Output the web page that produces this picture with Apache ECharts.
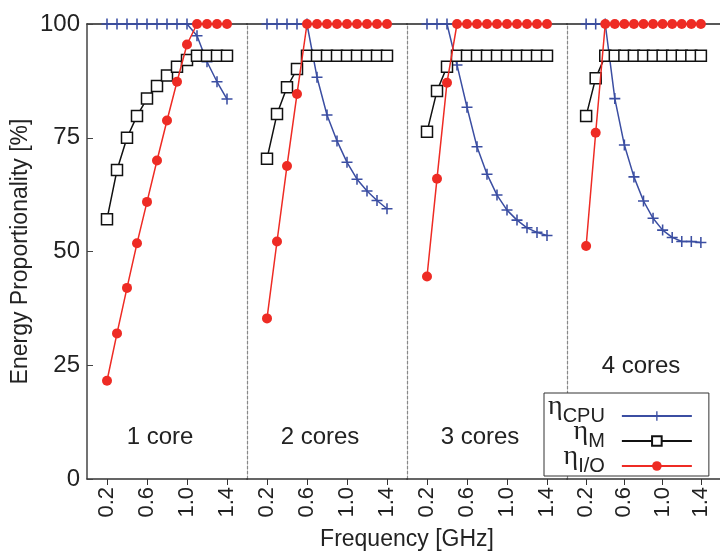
<!DOCTYPE html>
<html><head><meta charset="utf-8">
<script src="https://cdn.jsdelivr.net/npm/echarts@6/dist/echarts.min.js"></script>
<style>html,body{margin:0;padding:0;background:#fff}#c{width:720px;height:554px}</style>
</head><body><div id="c"></div>
<script>
const freq = [0.2,0.3,0.4,0.5,0.6,0.7,0.8,0.9,1.0,1.1,1.2,1.3,1.4];
const xTicks = [0.2,0.6,1.0,1.4];
const yTicks = [0,25,50,75,100];
const panelLabels = ['1 core','2 cores','3 cores','4 cores'];
const cpu1 = [100,100,100,100,100,100,100,100,100,97.4,91.7,87.3,83.5];
const mem1 = [57.1,67.9,75.0,79.8,83.6,86.4,88.7,90.6,92.1,93,93,93,93];
const io1  = [21.6,32.0,42.0,51.8,60.9,70.0,78.8,87.3,95.5,100,100,100,100];
const cpu2 = [100,100,100,100,100,88.3,80.0,74.3,69.6,65.9,63.3,61.2,59.4];
const mem2 = [70.4,80.2,86.1,90.1,93,93,93,93,93,93,93,93,93];
const io2  = [35.3,52.2,68.8,84.6,100,100,100,100,100,100,100,100,100];
const cpu3 = [100,100,100,91,81.7,73.0,67.0,62.4,59.1,56.9,55.2,54.2,53.5];
const mem3 = [76.3,85.3,90.6,93,93,93,93,93,93,93,93,93,93];
const io3  = [44.5,66.0,87.1,100,100,100,100,100,100,100,100,100,100];
const cpu4 = [100,100,100,83.6,73.4,66.4,61.1,57.3,54.7,53.1,52.2,52.2,52.0];
const mem4 = [79.8,88.1,93,93,93,93,93,93,93,93,93,93,93];
const io4  = [51.2,76.1,100,100,100,100,100,100,100,100,100,100,100];

const cpuAll = [cpu1,cpu2,cpu3,cpu4];
const memAll = [mem1,mem2,mem3,mem4];
const ioAll  = [io1,io2,io3,io4];

const BLUE = '#3b4ea2', BLACK = '#111', RED = '#ee2b24';
const PLUS = 'path://M4.3,0h1.4v4.3h4.3v1.4h-4.3v4.3h-1.4v-4.3h-4.3v-1.4h4.3z';
const FONT = 'Liberation Sans';

const grids = [], xAxes = [], yAxes = [], series = [];
for (let i = 0; i < 4; i++) {
  grids.push({left: 87 + 160*i, width: 160, top: 24, height: 455});
  xAxes.push({
    gridIndex: i, type: 'value', min: 0, max: 1.6, position: 'bottom',
    axisLine: {show: true, onZero: false, lineStyle: {color: '#333', width: 1.5}},
    axisTick: {show: true, inside: false, length: 6, customValues: xTicks, lineStyle: {color: '#333', width: 1}},
    axisLabel: {show: true, customValues: xTicks, rotate: 90, margin: 8, fontSize: 22, fontFamily: FONT, color: '#222',
      formatter: v => v.toFixed(1)},
    splitLine: {show: false}
  });
  xAxes.push({
    gridIndex: i, type: 'value', min: 0, max: 1.6, position: 'top',
    axisLine: {show: true, onZero: false, lineStyle: {color: '#222', width: 1.5}},
    axisTick: {show: false}, axisLabel: {show: false}, splitLine: {show: false}
  });
  yAxes.push(i === 0 ? {
    gridIndex: i, type: 'value', min: 0, max: 100, interval: 25,
    name: 'Energy Proportionality [%]', nameLocation: 'middle', nameGap: 55,
    nameTextStyle: {fontSize: 23, fontFamily: FONT, color: '#222'},
    axisLine: {show: true, lineStyle: {color: '#444', width: 1.5}},
    axisTick: {show: true, inside: true, length: 6, lineStyle: {color: '#444'}},
    axisLabel: {fontSize: 24, fontFamily: FONT, color: '#222', margin: 7},
    splitLine: {show: false}
  } : {
    gridIndex: i, type: 'value', min: 0, max: 100, interval: 25,
    axisLine: {show: true, lineStyle: {color: '#888', width: 1.2, type: [3, 2]}},
    axisTick: {show: false}, axisLabel: {show: false}, splitLine: {show: false}
  });
  const mk = (arr) => freq.map((f, k) => [f, arr[k]]);
  series.push({
    name: 'CPU', type: 'line', xAxisIndex: 2*i, yAxisIndex: i, data: mk(cpuAll[i]),
    symbol: PLUS, symbolSize: 11, showSymbol: true,
    lineStyle: {color: BLUE, width: 1.5}, itemStyle: {color: BLUE}, z: 2, animation: false
  });
  series.push({
    name: 'M', type: 'line', xAxisIndex: 2*i, yAxisIndex: i, data: mk(memAll[i]),
    symbol: 'rect', symbolSize: 11,
    lineStyle: {color: BLACK, width: 1.5}, itemStyle: {color: '#fff', borderColor: BLACK, borderWidth: 1.5}, z: 3, animation: false
  });
  series.push({
    name: 'I/O', type: 'line', xAxisIndex: 2*i, yAxisIndex: i, data: mk(ioAll[i]),
    symbol: 'circle', symbolSize: 10,
    lineStyle: {color: RED, width: 1.5}, itemStyle: {color: RED}, z: 4, animation: false
  });
}

const labelPos = [[160,437],[320,437],[480,437],[641,366]];
const graphics = panelLabels.map((t, i) => ({
  type: 'text', x: labelPos[i][0], y: labelPos[i][1],
  style: {text: t, fontSize: 24, fontFamily: FONT, fill: '#222', align: 'center', verticalAlign: 'middle'}
}));
graphics.push({type: 'text', x: 407, y: 540,
  style: {text: 'Frequency [GHz]', fontSize: 23, fontFamily: FONT, fill: '#222', align: 'center', verticalAlign: 'middle'}});

const subs = {'CPU': 'CPU', 'M': 'M', 'I/O': 'I/O'};
const option = {
  animation: false,
  grid: grids, xAxis: xAxes, yAxis: yAxes, series: series,
  legend: {
    data: ['CPU','M','I/O'], orient: 'vertical', align: 'right',
    left: 544, top: 393, itemWidth: 70, itemHeight: 12, itemGap: -8,
    padding: [0, 16, 0, 4],
    backgroundColor: '#fff', borderColor: '#333', borderWidth: 1,
    formatter: n => '{e|η}{s|' + subs[n] + '}',
    textStyle: {rich: {
      e: {fontFamily: 'Liberation Serif', fontSize: 28, lineHeight: 20, padding: [0,0,5,0], verticalAlign: 'bottom', color: '#222'},
      s: {fontFamily: FONT, fontSize: 20, lineHeight: 17, padding: [0,12,0,0], verticalAlign: 'bottom', color: '#222'}
    }}
  },
  graphic: graphics
};
const chart = echarts.init(document.getElementById('c'), null, {renderer: 'canvas'});
chart.setOption(option);
</script></body></html>
